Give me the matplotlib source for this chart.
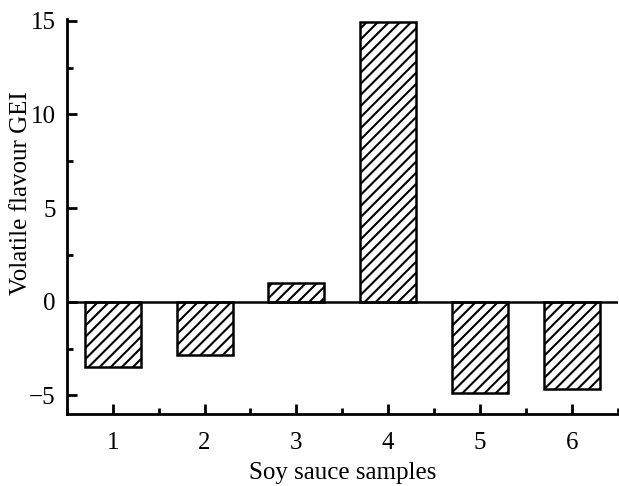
import numpy as np
import matplotlib.pyplot as plt
from matplotlib.ticker import MultipleLocator

# soy sauce samples and their volatile flavour GEI
samples = [1, 2, 3, 4, 5, 6]
gei = [-3.48, -2.82, 0.98, 14.92, -4.9, -4.67]

plt.rcParams['font.family'] = ['Liberation Serif', 'DejaVu Serif']
plt.rcParams['hatch.linewidth'] = 1.5

fig = plt.figure(figsize=(6.19, 4.86), dpi=100)
ax = fig.add_axes([0.108, 0.148, 0.890, 0.813])

ax.bar(samples, gei, width=0.61, color='white', edgecolor='black',
       linewidth=1.8, hatch='///', zorder=2)
ax.axhline(0, color='black', linewidth=1.8, zorder=3)

ax.set_xlim(0.5, 6.5)
ax.set_ylim(-6, 15.1)
ax.set_yticks([-5, 0, 5, 10, 15])
ax.set_yticklabels(['\u22125', '0', '5', '10', '15'])
ax.yaxis.set_minor_locator(MultipleLocator(2.5))
ax.set_xticks(samples)
ax.xaxis.set_minor_locator(MultipleLocator(1.0, offset=0.5))

for s in ['top', 'right']:
    ax.spines[s].set_visible(False)
for s in ['left', 'bottom']:
    ax.spines[s].set_linewidth(2)

ax.tick_params(which='major', direction='in', length=7, width=2, labelsize=18, pad=13)
ax.tick_params(which='minor', direction='in', length=4, width=2)
ax.tick_params(axis='y', pad=8)

ax.set_xlabel('Soy sauce samples', fontsize=18, labelpad=6)
ax.set_ylabel('Volatile flavour GEI', fontsize=18)
ax.yaxis.set_label_coords(-0.064, 0.56)

plt.savefig('out.png', dpi=100)
